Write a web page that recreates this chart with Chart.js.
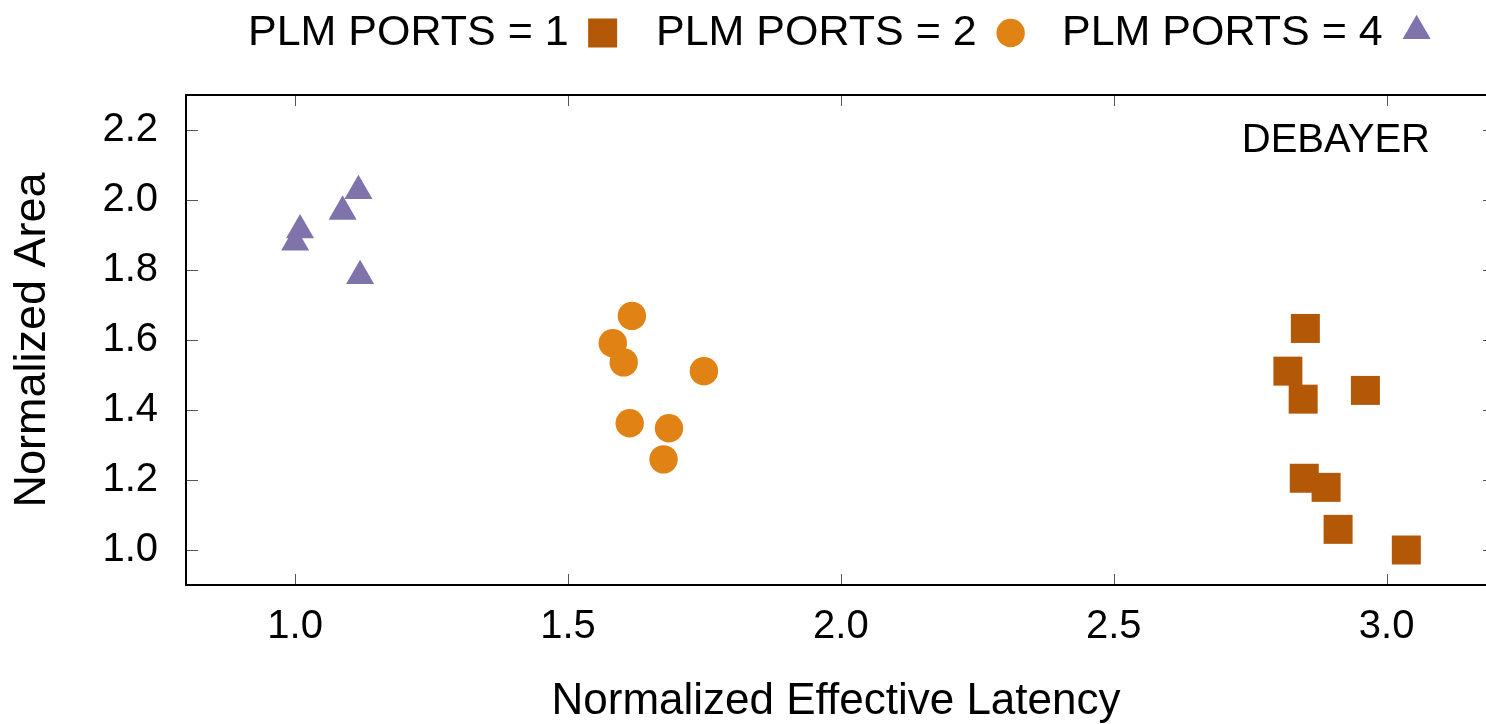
<!DOCTYPE html>
<html>
<head>
<meta charset="utf-8">
<script src="https://cdn.jsdelivr.net/npm/chart.js@4/dist/chart.umd.min.js"></script>
<style>
    html, body { margin: 0; padding: 0; background: #fff; overflow: hidden; }
    #scatter { display: block; }
</style>
</head>
<body>
<canvas id="scatter" width="1486" height="724"></canvas>
<script>
// values
const plm1Latency = [2.851, 2.819, 2.847, 2.961, 2.849, 2.889, 2.911, 3.036];
const plm1Area    = [1.633, 1.511, 1.431, 1.456, 1.205, 1.179, 1.059, 1.000];
const plm2Latency = [1.617, 1.582, 1.602, 1.749, 1.613, 1.685, 1.675];
const plm2Area    = [1.669, 1.591, 1.536, 1.511, 1.362, 1.348, 1.259];
const plm4Latency = [1.116, 1.087, 1.009, 1.000, 1.119];
const plm4Area    = [2.026, 1.967, 1.914, 1.879, 1.783];

const xTickValues = [1.0, 1.5, 2.0, 2.5, 3.0];
const yTickValues = [1.0, 1.2, 1.4, 1.6, 1.8, 2.0, 2.2];

const seriesLabels = ["PLM PORTS = 1", "PLM PORTS = 2", "PLM PORTS = 4"];
const seriesColors = ["#b35806", "#e08214", "#8073ac"];
const seriesStyles = ["rect", "circle", "triangle"];
const seriesRadius = [20.5, 14.2, 16.2];
const panelName = "DEBAYER";

const FONT = '"Liberation Sans", Arial, Helvetica, sans-serif';

function toPoints(xs, ys) {
    return xs.map((v, i) => ({ x: v, y: ys[i] }));
}

// the original plot runs past the right edge of the picture, so no right border line
const gnuplotLook = {
    id: "gnuplotLook",
    afterDraw(chart) {
        const ctx = chart.ctx;
        const a = chart.chartArea;
        const xs = chart.scales.x;
        const ys = chart.scales.y;
        ctx.save();

        // inward ticks
        ctx.strokeStyle = "#555";
        ctx.lineWidth = 1;
        ctx.beginPath();
        xs.ticks.forEach(t => {
            const px = Math.round(xs.getPixelForValue(t.value)) + 0.5;
            ctx.moveTo(px, a.bottom); ctx.lineTo(px, a.bottom - 11);
            ctx.moveTo(px, a.top); ctx.lineTo(px, a.top + 11);
        });
        ys.ticks.forEach(t => {
            const py = Math.round(ys.getPixelForValue(t.value)) + 0.5;
            ctx.moveTo(a.left, py); ctx.lineTo(a.left + 12, py);
            ctx.moveTo(a.right, py); ctx.lineTo(a.right - 3, py);
        });
        ctx.stroke();

        // frame: left, top, bottom
        ctx.strokeStyle = "#000";
        ctx.lineWidth = 2;
        ctx.beginPath();
        ctx.moveTo(a.right, a.top);
        ctx.lineTo(a.left, a.top);
        ctx.lineTo(a.left, a.bottom);
        ctx.lineTo(a.right, a.bottom);
        ctx.stroke();

        // panel name
        ctx.fillStyle = "#000";
        ctx.font = "40px " + FONT;
        ctx.textAlign = "right";
        ctx.textBaseline = "alphabetic";
        ctx.fillText(panelName, 1430, 152);

        // key: text first, then the marker
        ctx.font = "43px " + FONT;
        ctx.textAlign = "left";
        const starts = [248, 656, 1062];
        seriesLabels.forEach((label, i) => {
            ctx.fillStyle = "#000";
            ctx.fillText(label, starts[i], 45);
            const w = ctx.measureText(label).width;
            ctx.fillStyle = seriesColors[i];
            const cy = seriesStyles[i] === "triangle" ? 31 : 33;
            Chart.helpers.drawPoint(ctx, {
                pointStyle: seriesStyles[i],
                radius: seriesRadius[i],
                rotation: 0,
                borderWidth: 0
            }, starts[i] + w + 20 + 14, cy);
        });
        ctx.restore();
    }
};

function makeDataset(i, xs, ys) {
    return {
        label: seriesLabels[i],
        data: toPoints(xs, ys),
        pointStyle: seriesStyles[i],
        pointRadius: seriesRadius[i],
        pointBackgroundColor: seriesColors[i],
        pointBorderColor: seriesColors[i],
        pointBorderWidth: 0,
        showLine: false
    };
}

const config = {
    type: "scatter",
    data: {
        datasets: [
            makeDataset(0, plm1Latency, plm1Area),
            makeDataset(1, plm2Latency, plm2Area),
            makeDataset(2, plm4Latency, plm4Area)
        ]
    },
    options: {
        responsive: false,
        animation: false,
        events: [],
        layout: {
            autoPadding: false,
            padding: { top: 95, right: 0, left: 0, bottom: 0 }
        },
        plugins: {
            legend: { display: false },
            tooltip: { enabled: false }
        },
        scales: {
            x: {
                type: "linear",
                min: 0.8,
                max: 3.182,
                grid: { display: false, drawTicks: false },
                border: { display: false },
                afterBuildTicks: s => { s.ticks = xTickValues.map(v => ({ value: v })); },
                ticks: {
                    padding: 18,
                    color: "#000",
                    font: { family: FONT, size: 40 },
                    callback: v => Number(v).toFixed(1)
                },
                title: {
                    display: true,
                    text: "Normalized Effective Latency",
                    color: "#000",
                    font: { family: FONT, size: 44, lineHeight: 1 },
                    padding: { top: 0, bottom: 0 }
                },
                afterFit: s => {
                    s.height = 139;
                    s.paddingLeft = 0;
                    s.paddingRight = 0;
                }
            },
            y: {
                type: "linear",
                min: 0.9,
                max: 2.3,
                grid: { display: false, drawTicks: false },
                border: { display: false },
                afterBuildTicks: s => { s.ticks = yTickValues.map(v => ({ value: v })); },
                ticks: {
                    padding: 28,
                    color: "#000",
                    font: { family: FONT, size: 40 },
                    callback: v => Number(v).toFixed(1)
                },
                title: {
                    display: true,
                    text: "Normalized Area",
                    color: "#000",
                    font: { family: FONT, size: 45 },
                    padding: { top: 6, bottom: 0 }
                },
                afterFit: s => {
                    s.width = 186;
                    s.paddingTop = 0;
                    s.paddingBottom = 0;
                }
            }
        }
    },
    plugins: [gnuplotLook]
};

new Chart(document.querySelector("#scatter"), config);
</script>
</body>
</html>
